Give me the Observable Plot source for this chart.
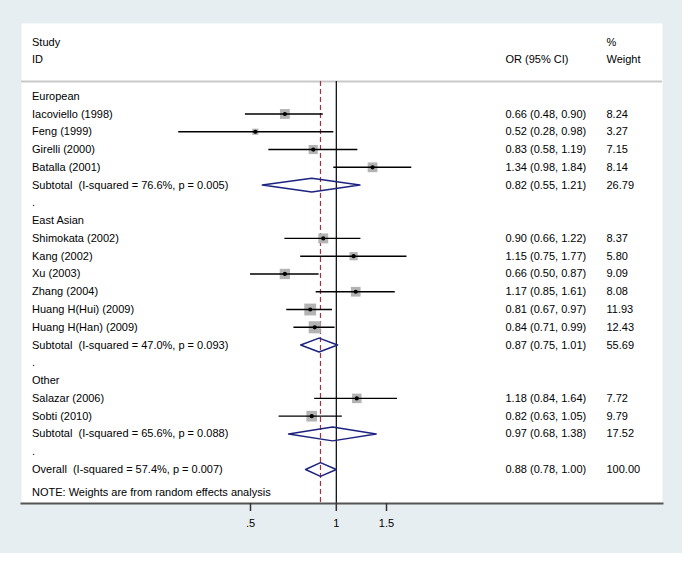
<!DOCTYPE html>
<html><head><meta charset="utf-8">
<script src="https://cdn.jsdelivr.net/npm/d3@7"></script>
<script src="https://cdn.jsdelivr.net/npm/@observablehq/plot@0.6"></script>
<style>
html,body{margin:0;padding:0;background:#fff;}
#chart svg text{white-space:pre;}
</style></head><body><div id="chart"></div>
<script>
// ---- data ----
const groups = ["European", "East Asian", "Other"];
const studies = ["Iacoviello (1998)", "Feng (1999)", "Girelli (2000)", "Batalla (2001)",
  "Shimokata (2002)", "Kang (2002)", "Xu (2003)", "Zhang (2004)", "Huang H(Hui) (2009)", "Huang H(Han) (2009)",
  "Salazar (2006)", "Sobti (2010)"];
const studyGroup = ["European", "European", "European", "European",
  "East Asian", "East Asian", "East Asian", "East Asian", "East Asian", "East Asian",
  "Other", "Other"];
const studyOR = [0.66, 0.52, 0.83, 1.34, 0.90, 1.15, 0.66, 1.17, 0.81, 0.84, 1.18, 0.82];
const studyLo = [0.48, 0.28, 0.58, 0.98, 0.66, 0.75, 0.50, 0.85, 0.67, 0.71, 0.84, 0.63];
const studyHi = [0.90, 0.98, 1.19, 1.84, 1.22, 1.77, 0.87, 1.61, 0.97, 0.99, 1.64, 1.05];
const studyWeight = [8.24, 3.27, 7.15, 8.14, 8.37, 5.80, 9.09, 8.08, 11.93, 12.43, 7.72, 9.79];
const subOR = [0.82, 0.87, 0.97];
const subLo = [0.55, 0.75, 0.68];
const subHi = [1.21, 1.01, 1.38];
const subWeight = [26.79, 55.69, 17.52];
const subI2 = [76.6, 47.0, 65.6];
const subP = ["0.005", "0.093", "0.088"];
const overall = {or: 0.88, lo: 0.78, hi: 1.00, w: 100.00, i2: 57.4, p: "0.007"};
const xTicks = [0.5, 1, 1.5];
const headerLeft = ["Study", "ID"];
const headerOR = ["", "OR (95% CI)"];
const headerW = ["%", "Weight"];
const note = "NOTE: Weights are from random effects analysis";

// ---- build table rows ----
const rows = [];
let r = 0;
groups.forEach((g, gi) => {
  rows.push({row: r++, kind: "group", label: g});
  studies.forEach((s, i) => {
    if (studyGroup[i] === g) rows.push({row: r++, kind: "study", label: s, or: studyOR[i], lo: studyLo[i], hi: studyHi[i], w: studyWeight[i]});
  });
  rows.push({row: r++, kind: "sub", label: `Subtotal  (I-squared = ${subI2[gi].toFixed(1)}%, p = ${subP[gi]})`,
    or: subOR[gi], lo: subLo[gi], hi: subHi[gi], w: subWeight[gi]});
  rows.push({row: r++, kind: "dot", label: "."});
});
rows.push({row: r++, kind: "overall", label: `Overall  (I-squared = ${overall.i2.toFixed(1)}%, p = ${overall.p})`,
  or: overall.or, lo: overall.lo, hi: overall.hi, w: overall.w});

const est = rows.filter(d => d.or != null);
const pts = rows.filter(d => d.kind === "study");
const pooled = rows.filter(d => d.kind === "sub" || d.kind === "overall");
const dh = 0.39;
const diamonds = pooled.flatMap(d => [
  {x: d.lo, y: d.row, z: d.row}, {x: d.or, y: d.row - dh, z: d.row},
  {x: d.hi, y: d.row, z: d.row}, {x: d.or, y: d.row + dh, z: d.row},
  {x: d.lo, y: d.row, z: d.row}
]);
const fmt = v => v.toFixed(2);
const headerRows = [-3.03, -2.06];
const sepRow = -0.83;
const noteRow = 22.27;
const bottomRow = 22.91;
const header = headerRows.map((y, i) => ({y, left: headerLeft[i], or: headerOR[i], w: headerW[i]}));

const font = "'Liberation Sans', Arial, Helvetica, sans-serif";

const chart = Plot.plot({
  width: 682, height: 553,
  marginTop: 23, marginBottom: 50, marginLeft: 21, marginRight: 20,
  style: {background: "#e7eef1", fontFamily: font, fontSize: "11px", color: "#000"},
  x: {type: "log", domain: [0.5, 1.5], range: [250, 386]},
  y: {type: "linear", domain: [0, 21], range: [95.7, 469], axis: null},
  r: {type: "sqrt", domain: [0, 12.43], range: [0, 6.8]},
  marks: [
    Plot.frame({fill: "white", stroke: "none"}),
    Plot.ruleY([sepRow], {stroke: "#c9c9c9", strokeWidth: 2}),
    Plot.ruleX([overall.or], {y1: sepRow, y2: bottomRow, stroke: "#a33040", strokeWidth: 1.2, strokeDasharray: "5,3"}),
    Plot.ruleX([1], {y1: sepRow, y2: bottomRow, stroke: "#000", strokeWidth: 1.2}),
    Plot.dot(pts, {x: "or", y: "row", r: "w", symbol: "square", fill: "#b3b3b3", stroke: "none"}),
    Plot.ruleY(pts, {y: "row", x1: "lo", x2: "hi", stroke: "#000", strokeWidth: 1.4}),
    Plot.dot(pts, {x: "or", y: "row", r: 2.1, fill: "#000", stroke: "none"}),
    Plot.line(diamonds, {x: "x", y: "y", z: "z", stroke: "#1b237f", strokeWidth: 1.5, fill: "none", curve: "linear"}),
    Plot.frame({anchor: "bottom", stroke: "#555", strokeWidth: 2}),
    Plot.axisX({ticks: xTicks, tickFormat: d => String(d).replace(/^0/, ""), tickSize: 8, tickPadding: 8, stroke: "#333", strokeWidth: 1.5, fill: "#000", fontSize: 11}),
    // text columns
    Plot.text(header, {y: "y", text: "left", frameAnchor: "left", dx: 10.5, textAnchor: "start", fill: "#000"}),
    Plot.text(header, {y: "y", text: "or", frameAnchor: "right", dx: -157, textAnchor: "start", fill: "#000"}),
    Plot.text(header, {y: "y", text: "w", frameAnchor: "right", dx: -56, textAnchor: "start", fill: "#000"}),
    Plot.text(rows, {y: "row", text: "label", frameAnchor: "left", dx: 10.5, textAnchor: "start", fill: "#000"}),
    Plot.text(est, {y: "row", text: d => `${fmt(d.or)} (${fmt(d.lo)}, ${fmt(d.hi)})`, frameAnchor: "right", dx: -157, textAnchor: "start", fill: "#000"}),
    Plot.text(est, {y: "row", text: d => fmt(d.w), frameAnchor: "right", dx: -56, textAnchor: "start", fill: "#000"}),
    Plot.text([note], {y: noteRow, text: d => d, frameAnchor: "left", dx: 10.5, textAnchor: "start", fill: "#000"})
  ]
});
document.getElementById("chart").appendChild(chart);
</script></body></html>
